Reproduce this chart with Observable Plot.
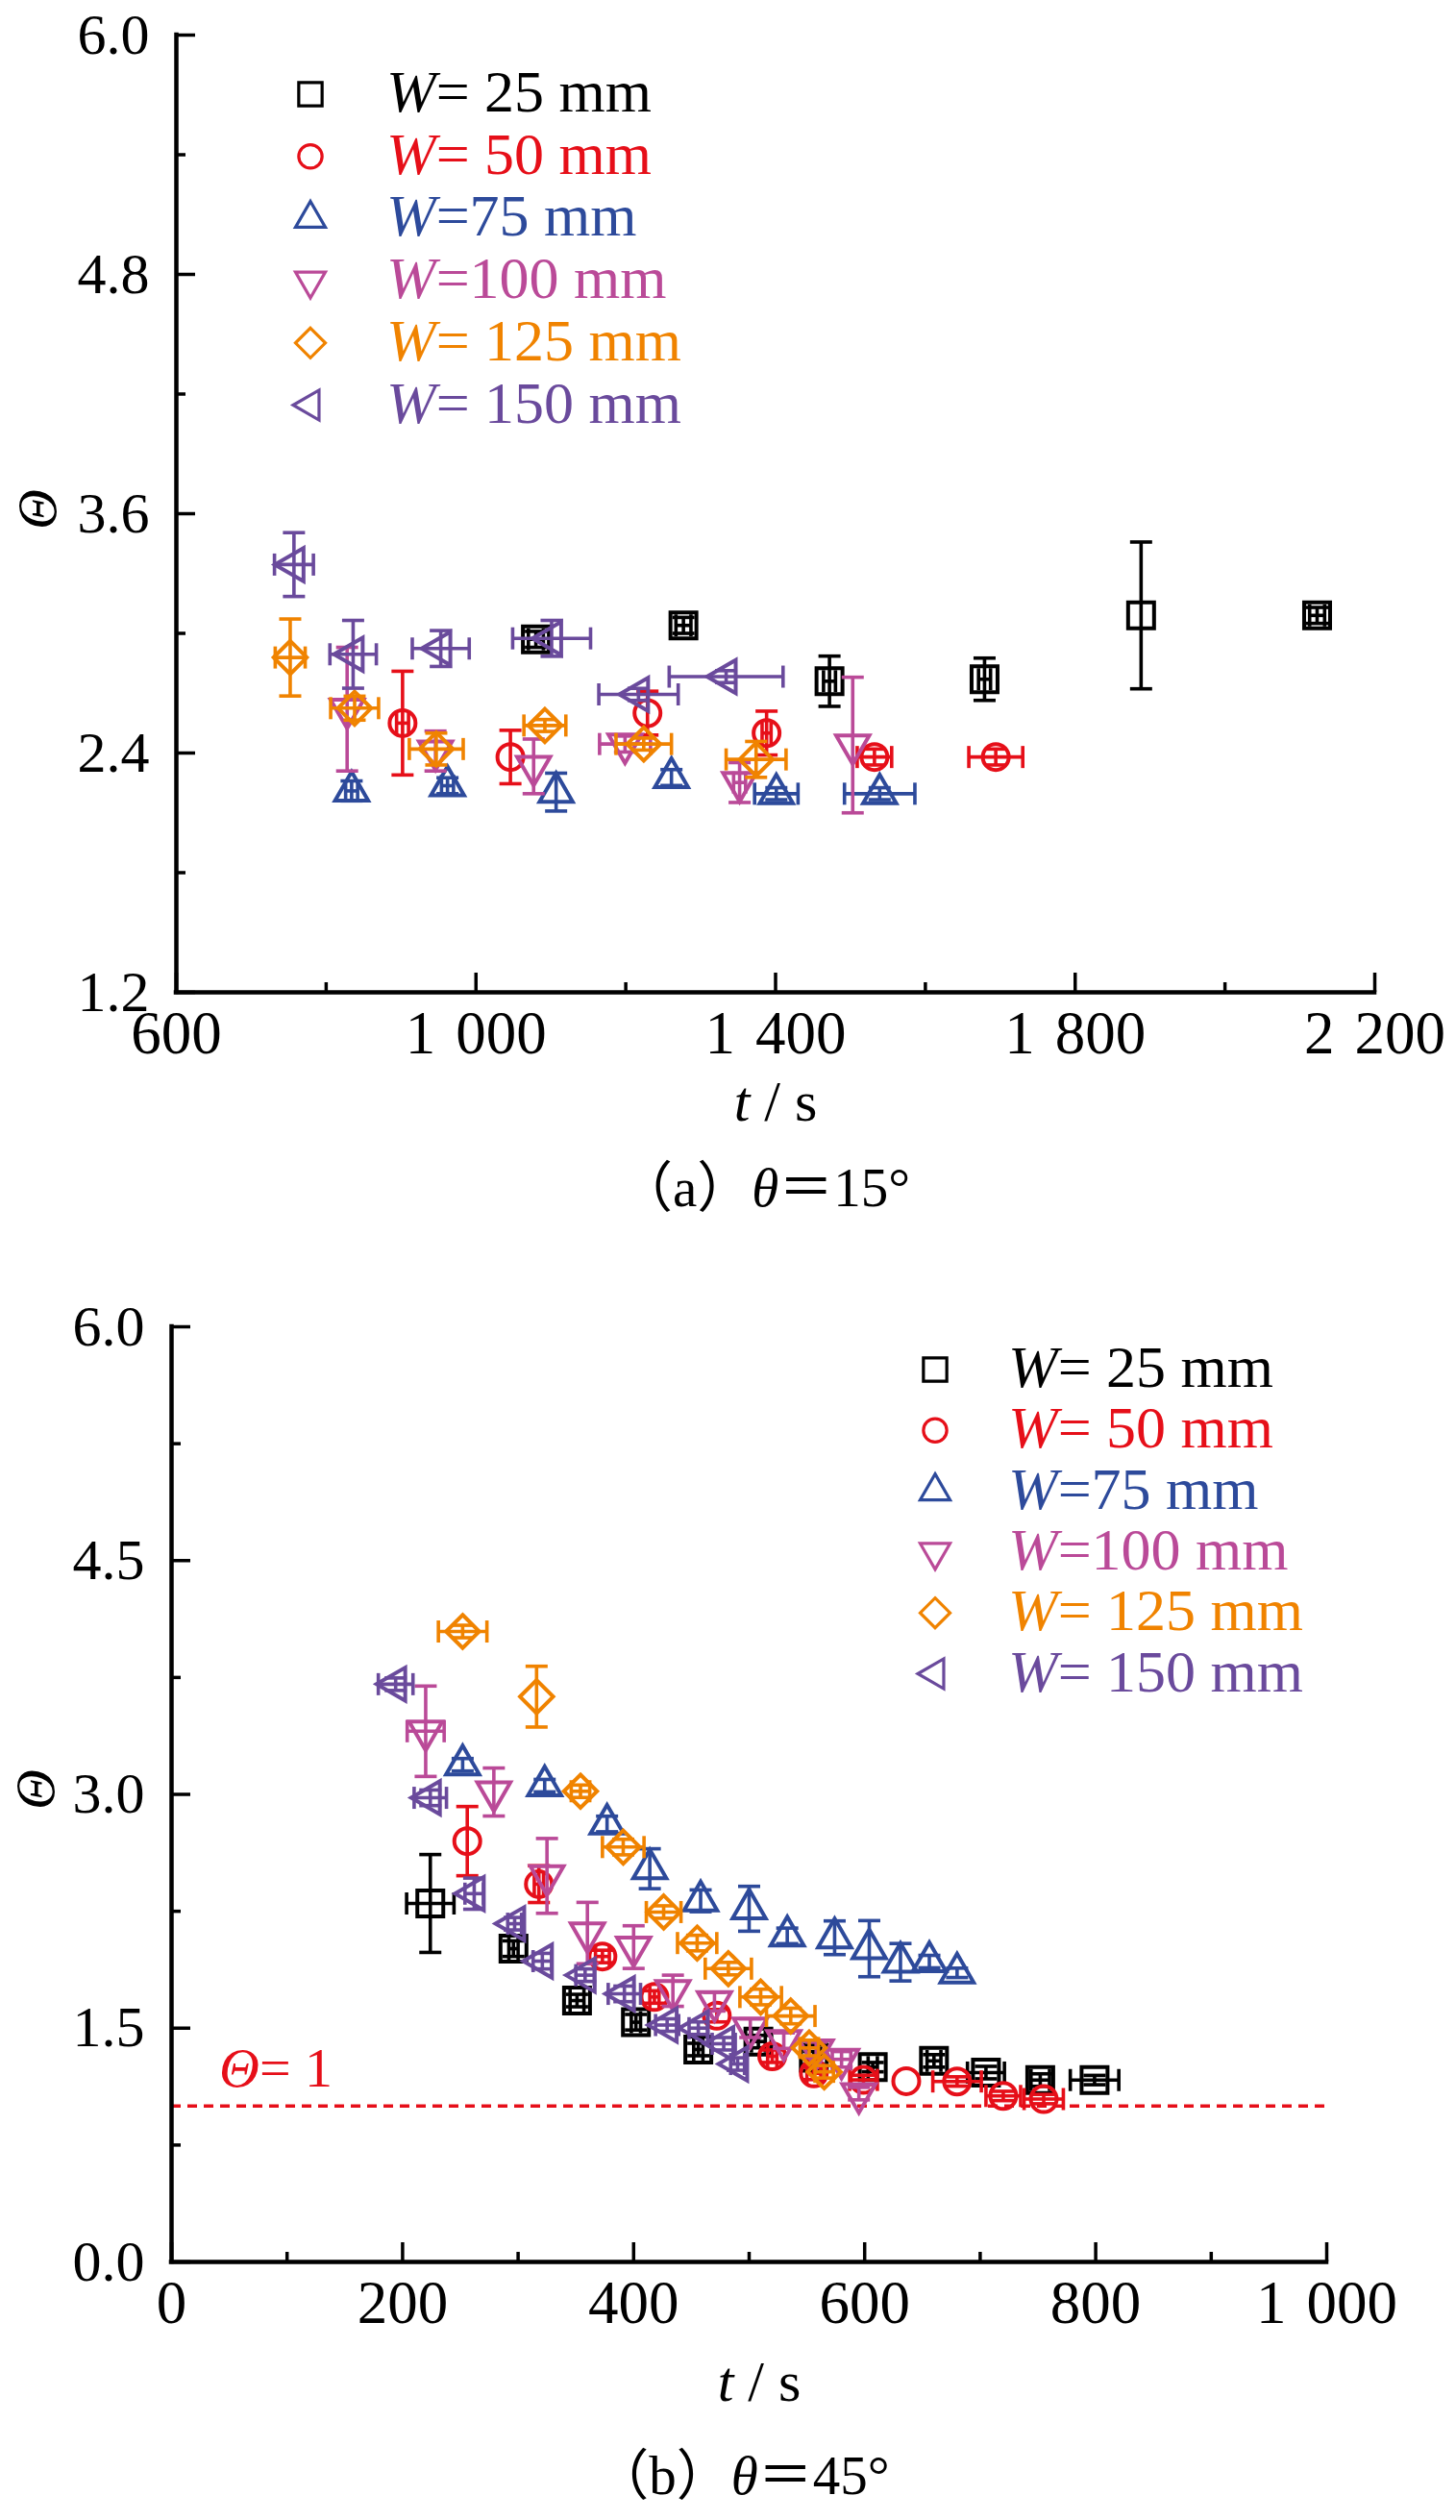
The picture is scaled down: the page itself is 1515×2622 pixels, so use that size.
<!DOCTYPE html>
<html>
<head>
<meta charset="utf-8">
<script src="https://cdn.jsdelivr.net/npm/d3@7"></script>
<script src="https://cdn.jsdelivr.net/npm/@observablehq/plot@0.6"></script>
<style>
  body { margin: 0; background: #fff; }
  #page { position: relative; width: 1515px; height: 2622px; background: #fff; overflow: hidden; }
  .panel { position: absolute; left: 0; }
  #overlay { position: absolute; left: 0; top: 0; pointer-events: none; }
</style>
</head>
<body>
<div id="page"></div>
<script>
// ---------- series metadata ----------
const seriesWidths = [25, 50, 75, 100, 125, 150];
const legendRest = ["= 25 mm", "= 50 mm", "=75 mm", "=100 mm", "= 125 mm", "= 150 mm"];
const seriesColors = ["#000000", "#E60F19", "#2D4A9B", "#BA4A98", "#F08300", "#6A4A9C"];

// ---------- axis ticks ----------
const xMajorA = [600, 1000, 1400, 1800, 2200];
const xMinorA = [800, 1200, 1600, 2000];
const yMajorA = [1.2, 2.4, 3.6, 4.8, 6.0];
const yMinorA = [1.8, 3.0, 4.2, 5.4];
const xMajorB = [0, 200, 400, 600, 800, 1000];
const xMinorB = [100, 300, 500, 700, 900];
const yMajorB = [0, 1.5, 3.0, 4.5, 6.0];
const yMinorB = [0.75, 2.25, 3.75, 5.25];
const refLineB = [1];

// ---------- panel (a) θ = 15° : t (s), Θ, t error, Θ error ----------
const a25_t  = [1080, 1277, 1472, 1679, 1888, 2123];
const a25_v  = [2.97, 3.04, 2.76, 2.77, 3.09, 3.09];
const a25_dt = [10, 10, 8, 8, 0, 10];
const a25_dv = [0.04, 0.04, 0.126, 0.106, 0.368, 0.04];

const a50_t  = [902, 1046, 1229, 1388, 1532, 1694];
const a50_v  = [2.55, 2.38, 2.60, 2.50, 2.38, 2.38];
const a50_dt = [8, 0, 0, 6, 23, 36];
const a50_dv = [0.26, 0.134, 0.11, 0.11, 0.04, 0.04];

const a75_t  = [834, 962, 1107, 1261, 1401, 1539];
const a75_v  = [2.21, 2.236, 2.204, 2.277, 2.196, 2.196];
const a75_dt = [8, 8, 0, 0, 29, 47];
const a75_dv = [0.05, 0.04, 0.095, 0.04, 0.03, 0.03];

const a100_t  = [828, 946, 1077, 1199, 1352, 1503];
const a100_v  = [2.62, 2.41, 2.333, 2.445, 2.252, 2.44];
const a100_dt = [0, 0, 0, 34, 8, 0];
const a100_dv = [0.31, 0.10, 0.137, 0.04, 0.10, 0.34];

const a125_t  = [752, 838, 947, 1092, 1224, 1374];
const a125_v  = [2.879, 2.625, 2.42, 2.538, 2.445, 2.368];
const a125_dt = [20, 32, 36, 28, 37, 40];
const a125_dv = [0.193, 0.06, 0.08, 0.03, 0.03, 0.09];

const a150_t  = [757, 836, 953, 1101, 1217, 1334];
const a150_v  = [3.345, 2.895, 2.924, 2.975, 2.694, 2.783];
const a150_dt = [26, 31, 38, 52, 53, 76];
const a150_dv = [0.16, 0.17, 0.09, 0.09, 0.03, 0.03];

// ---------- panel (b) θ = 45° ----------
const b25_t  = [224, 296, 351, 402, 456, 508, 556, 607, 660, 705, 752, 799];
const b25_v  = [2.30, 2.01, 1.677, 1.538, 1.363, 1.414, 1.31, 1.25, 1.29, 1.215, 1.167, 1.167];
const b25_dt = [20.5, 4, 6, 4, 4, 6, 6, 4, 6, 16, 8, 21];
const b25_dv = [0.314, 0.05, 0.04, 0.05, 0.04, 0.04, 0.04, 0.03, 0.04, 0.04, 0.04, 0.03];

const b50_t  = [256, 318, 373, 418, 472, 520, 556, 599, 636, 680, 720, 755];
const b50_v  = [2.70, 2.424, 1.96, 1.70, 1.58, 1.32, 1.21, 1.168, 1.16, 1.158, 1.065, 1.045];
const b50_dt = [0, 4, 6, 4, 0, 4, 6, 12, 0, 21, 15, 17];
const b50_dv = [0.222, 0.118, 0.04, 0.04, 0.04, 0.04, 0.04, 0.03, 0, 0.03, 0.03, 0.03];

const b75_t  = [252, 323, 377, 414, 458, 500, 533, 574, 604, 631, 656, 680];
const b75_v  = [3.19, 3.056, 2.81, 2.523, 2.317, 2.266, 2.092, 2.08, 2.01, 1.923, 1.927, 1.855];
const b75_dt = [0, 0, 0, 0, 0, 0, 0, 0, 0, 0, 0, 0];
const b75_dv = [0.04, 0.04, 0.05, 0.128, 0.07, 0.144, 0.05, 0.108, 0.18, 0.12, 0.04, 0.03];

const b100_t  = [220, 279, 325, 360, 400, 434, 470, 501, 530, 558, 580, 595];
const b100_v  = [3.405, 3.015, 2.477, 2.11, 2.02, 1.74, 1.67, 1.50, 1.42, 1.36, 1.30, 1.08];
const b100_dt = [16, 0, 0, 0, 0, 0, 0, 0, 0, 0, 8, 0];
const b100_dv = [0.29, 0.154, 0.24, 0.197, 0.137, 0.10, 0.06, 0.06, 0.05, 0.05, 0.05, 0.04];

const b125_t  = [252, 316, 354, 391, 426, 455, 482, 510, 536, 552, 565];
const b125_v  = [4.045, 3.627, 3.02, 2.662, 2.245, 2.046, 1.882, 1.70, 1.578, 1.373, 1.22];
const b125_dt = [21, 0, 8, 18, 15, 17, 20, 18, 21, 8, 8];
const b125_dv = [0.04, 0.195, 0.04, 0.05, 0.04, 0.05, 0.04, 0.05, 0.05, 0.05, 0.04];

const b150_t  = [194, 224, 262, 297, 321, 358, 392, 429, 456, 478, 490];
const b150_v  = [3.707, 2.978, 2.363, 2.17, 1.93, 1.84, 1.72, 1.52, 1.50, 1.40, 1.27];
const b150_dt = [15, 14, 8, 6, 8, 8, 14, 10, 8, 10, 6];
const b150_dv = [0.04, 0.05, 0.10, 0.04, 0.05, 0.04, 0.05, 0.04, 0.04, 0.04, 0.04];

// ---------- symbols (Origin-like) ----------
function shape(kind) {
  return {
    draw(ctx, size) {
      const r = Math.sqrt(size / Math.PI);
      if (kind === "square") {
        const h = 0.9 * r;
        ctx.moveTo(-h, -h); ctx.lineTo(h, -h); ctx.lineTo(h, h); ctx.lineTo(-h, h); ctx.closePath();
      } else if (kind === "circle") {
        const c = 0.9 * r;
        ctx.moveTo(c, 0); ctx.arc(0, 0, c, 0, 2 * Math.PI);
      } else if (kind === "diamond") {
        const d = 1.15 * r;
        ctx.moveTo(0, -d); ctx.lineTo(d, 0); ctx.lineTo(0, d); ctx.lineTo(-d, 0); ctx.closePath();
      } else {
        const w = 2.3 * r, h = w * Math.sqrt(3) / 2;
        if (kind === "up") {
          ctx.moveTo(0, -2 * h / 3); ctx.lineTo(w / 2, h / 3); ctx.lineTo(-w / 2, h / 3); ctx.closePath();
        } else if (kind === "down") {
          ctx.moveTo(0, 2 * h / 3); ctx.lineTo(w / 2, -h / 3); ctx.lineTo(-w / 2, -h / 3); ctx.closePath();
        } else if (kind === "left") {
          ctx.moveTo(-2 * h / 3, 0); ctx.lineTo(h / 3, -w / 2); ctx.lineTo(h / 3, w / 2); ctx.closePath();
        }
      }
    }
  };
}
const symbolKinds = ["square", "circle", "up", "down", "diamond", "left"];
const hcap = { draw(ctx) { ctx.moveTo(-11.5, 0); ctx.lineTo(11.5, 0); } };
const vcap = { draw(ctx) { ctx.moveTo(0, -11.5); ctx.lineTo(0, 11.5); } };

function rowsOf(t, v, dt, dv) {
  return t.map((ti, i) => ({ t: ti, v: v[i], dt: dt[i], dv: dv[i] }));
}

const panelA = [
  rowsOf(a25_t, a25_v, a25_dt, a25_dv),
  rowsOf(a50_t, a50_v, a50_dt, a50_dv),
  rowsOf(a75_t, a75_v, a75_dt, a75_dv),
  rowsOf(a100_t, a100_v, a100_dt, a100_dv),
  rowsOf(a125_t, a125_v, a125_dt, a125_dv),
  rowsOf(a150_t, a150_v, a150_dt, a150_dv)
];
const panelB = [
  rowsOf(b25_t, b25_v, b25_dt, b25_dv),
  rowsOf(b50_t, b50_v, b50_dt, b50_dv),
  rowsOf(b75_t, b75_v, b75_dt, b75_dv),
  rowsOf(b100_t, b100_v, b100_dt, b100_dv),
  rowsOf(b125_t, b125_v, b125_dt, b125_dv),
  rowsOf(b150_t, b150_v, b150_dt, b150_dv)
];

function seriesMarks(groups) {
  const m = [];
  groups.forEach((rows, i) => {
    const color = seriesColors[i];
    const ey = rows.filter(d => d.dv > 0);
    const ex = rows.filter(d => d.dt > 0);
    const sw = 3.6;
    m.push(Plot.ruleX(ey, { x: "t", y1: d => d.v - d.dv, y2: d => d.v + d.dv, stroke: color, strokeWidth: sw }));
    m.push(Plot.dot(ey, { x: "t", y: d => d.v + d.dv, symbol: hcap, r: 3, stroke: color, fill: "none", strokeWidth: sw }));
    m.push(Plot.dot(ey, { x: "t", y: d => d.v - d.dv, symbol: hcap, r: 3, stroke: color, fill: "none", strokeWidth: sw }));
    m.push(Plot.ruleY(ex, { y: "v", x1: d => d.t - d.dt, x2: d => d.t + d.dt, stroke: color, strokeWidth: sw }));
    m.push(Plot.dot(ex, { x: d => d.t - d.dt, y: "v", symbol: vcap, r: 3, stroke: color, fill: "none", strokeWidth: sw }));
    m.push(Plot.dot(ex, { x: d => d.t + d.dt, y: "v", symbol: vcap, r: 3, stroke: color, fill: "none", strokeWidth: sw }));
    m.push(Plot.dot(rows, { x: "t", y: "v", symbol: shape(symbolKinds[i]), r: 15, stroke: color, fill: "none", strokeWidth: 4 }));
  });
  return m;
}

const fmtX = d => d >= 1000 ? String(Math.floor(d / 1000)) + "\u2004" + String(d % 1000).padStart(3, "0") : String(d);
const fmtY = d3.format(".1f");

function axisMarks(xMaj, xMin, yMaj, yMin) {
  return [
    Plot.axisX({ ticks: xMaj, tickSize: -20, tickPadding: 39, tickFormat: fmtX, fontSize: 63, strokeWidth: 3.5, label: null }),
    Plot.axisX({ ticks: xMin, tickSize: -10, fill: null, strokeWidth: 3.5, label: null }),
    Plot.axisY({ ticks: yMaj, tickSize: -20, tickPadding: 48, tickFormat: fmtY, fontSize: 60, strokeWidth: 3.5, label: null }),
    Plot.axisY({ ticks: yMin, tickSize: -10, fill: null, strokeWidth: 3.5, label: null }),
  ];
}

const plotStyle = { fontFamily: "'Liberation Serif', 'Times New Roman', serif", background: "transparent", color: "#000", overflow: "visible" };

const chartA = Plot.plot({
  width: 1515, height: 1190,
  marginLeft: 183, marginRight: 85, marginTop: 36, marginBottom: 158,
  x: { domain: [xMajorA[0], xMajorA[xMajorA.length - 1]] },
  y: { domain: [yMajorA[0], yMajorA[yMajorA.length - 1]] },
  style: plotStyle,
  marks: [
    ...seriesMarks(panelA),
    Plot.ruleX([xMajorA[0]], { stroke: "#000", strokeWidth: 4.5, strokeLinecap: "square" }),
    Plot.ruleY([yMajorA[0]], { stroke: "#000", strokeWidth: 4.5, strokeLinecap: "square" }),
    ...axisMarks(xMajorA, xMinorA, yMajorA, yMinorA)
  ]
});

const chartB = Plot.plot({
  width: 1515, height: 1240,
  marginLeft: 178, marginRight: 135, marginTop: 80, marginBottom: 187,
  x: { domain: [xMajorB[0], xMajorB[xMajorB.length - 1]] },
  y: { domain: [yMajorB[0], yMajorB[yMajorB.length - 1]] },
  style: plotStyle,
  marks: [
    Plot.ruleY(refLineB, { stroke: "#E60F19", strokeWidth: 3.5, strokeDasharray: "10,7" }),
    ...seriesMarks(panelB),
    Plot.ruleX([xMajorB[0]], { stroke: "#000", strokeWidth: 4.5, strokeLinecap: "square" }),
    Plot.ruleY([yMajorB[0]], { stroke: "#000", strokeWidth: 4.5, strokeLinecap: "square" }),
    ...axisMarks(xMajorB, xMinorB, yMajorB, yMinorB)
  ]
});

const page = document.getElementById("page");
const wrapA = document.createElement("div"); wrapA.className = "panel"; wrapA.style.top = "0px"; wrapA.appendChild(chartA);
const wrapB = document.createElement("div"); wrapB.className = "panel"; wrapB.style.top = "1300px"; wrapB.appendChild(chartB);
page.appendChild(wrapA); page.appendChild(wrapB);

// ---------- overlay: axis titles, captions, legends, annotation ----------
const serif = "'Liberation Serif', 'Times New Roman', 'Noto Sans CJK SC', serif";
const ov = d3.select(page).append("svg").attr("id", "overlay").attr("width", 1515).attr("height", 2622)
  .style("font-family", serif);

function yTitle(cx, cy) {
  ov.append("text").attr("transform", `translate(${cx},${cy}) rotate(-90)`)
    .attr("text-anchor", "middle").attr("dominant-baseline", "central")
    .attr("font-size", 58).attr("font-style", "italic").text("Θ");
}
function xTitle(cx, by) {
  const t = ov.append("text").attr("x", cx).attr("y", by).attr("text-anchor", "middle").attr("font-size", 60);
  t.append("tspan").attr("font-style", "italic").text("t");
  t.append("tspan").text(" / s");
}
function caption(cx, by, letter, angle) {
  const t = ov.append("text").attr("x", cx).attr("y", by).attr("text-anchor", "middle").attr("font-size", 57);
  t.append("tspan").text("（" + letter + "）");
  t.append("tspan").attr("font-style", "italic").text("θ");
  t.append("tspan").text("＝" + angle + "°");
}
function legend(mx, tx, y0, step) {
  seriesWidths.forEach((w, i) => {
    const cy = y0 + i * step;
    const p = d3.path();
    shape(symbolKinds[i]).draw(p, Math.PI * 13.5 * 13.5);
    ov.append("path").attr("d", p.toString()).attr("transform", `translate(${mx},${cy})`)
      .attr("fill", "none").attr("stroke", seriesColors[i]).attr("stroke-width", 3.2);
    const t = ov.append("text").attr("x", tx).attr("y", cy + 18).attr("font-size", 62).attr("fill", seriesColors[i]);
    t.append("tspan").attr("font-style", "italic").text("W");
    t.append("tspan").text(legendRest[i]);
  });
}

yTitle(38, 530);
xTitle(807, 1166);
caption(795, 1255, "a", 15);
legend(323, 402, 98, 64.7);

yTitle(36, 1862);
xTitle(790, 2498);
caption(772, 2595, "b", 45);
legend(973, 1049, 1425, 63.3);

const ann = ov.append("text").attr("x", 228).attr("y", 2171).attr("font-size", 58).attr("fill", "#E60F19");
ann.append("tspan").attr("font-style", "italic").text("Θ");
ann.append("tspan").text("= 1");
</script>
</body>
</html>
